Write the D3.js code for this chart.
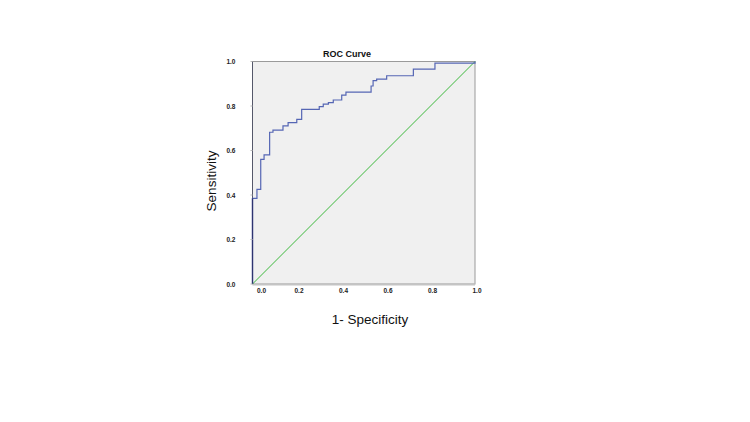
<!DOCTYPE html>
<html>
<head>
<meta charset="utf-8">
<script src="https://cdn.jsdelivr.net/npm/d3@7"></script>
<style>
	html, body { margin: 0; padding: 0; background: #fff; }
	svg { display: block; font-family: Arial, 'Liberation Sans', sans-serif; }
</style>
</head>
<body>
<svg id="graph"></svg>
<script>
	// ROC coordinates: each point is where the curve steps up
	const fprValues = [0, 0, 0.020, 0.037, 0.052, 0.077, 0.092, 0.137, 0.160, 0.199, 0.221, 0.300, 0.318, 0.341, 0.363, 0.401, 0.420, 0.533, 0.542, 0.558, 0.603, 0.723, 0.820, 1.0];
	const tprValues = [0, 0.385, 0.425, 0.56, 0.58, 0.682, 0.692, 0.711, 0.725, 0.740, 0.785, 0.797, 0.808, 0.815, 0.827, 0.849, 0.862, 0.89, 0.914, 0.921, 0.936, 0.966, 0.993, 1.0];
	const referenceLine = [0, 1];
	const tickValues = [0, 0.2, 0.4, 0.6, 0.8, 1.0];

;(() => {
	'use strict';

	const width = 750,
		height = 422,
		plot = {left: 252.5, top: 61.5, width: 222.5, height: 222.5};

	const svg = d3.select('#graph')
		.attr('width', width)
		.attr('height', height);

	const xScale = d3.scaleLinear().domain([0, 1]).range([plot.left, plot.left + plot.width]),
		yScale = d3.scaleLinear().domain([0, 1]).range([plot.top + plot.height, plot.top]);

	const rocPoints = fprValues.map((f, i) => ({fpr: f, tpr: tprValues[i]}));

	/**
	* draw the plot frame
	* @returns {undefined}
	*/
	const drawFrame = function() {
		svg.append('rect')
			.attr('x', xScale(0))
			.attr('y', yScale(1))
			.attr('width', xScale(1) - xScale(0))
			.attr('height', yScale(0) - yScale(1))
			.attr('fill', '#f0f0f0')
			.attr('stroke', '#9a9a9a')
			.attr('stroke-width', 1);

		// thicker light bottom edge
		svg.append('line')
			.attr('x1', xScale(0)).attr('x2', xScale(1))
			.attr('y1', yScale(0) + 0.5).attr('y2', yScale(0) + 0.5)
			.attr('stroke', '#c4c4c4')
			.attr('stroke-width', 2);

		// dark left edge
		svg.append('line')
			.attr('x1', xScale(0)).attr('x2', xScale(0))
			.attr('y1', yScale(0)).attr('y2', yScale(1))
			.attr('stroke', '#55586a')
			.attr('stroke-width', 1);
	};

	/**
	* draw tick labels of both axes
	* @returns {undefined}
	*/
	const drawAxes = function() {
		const labelFont = {size: '6.5px', weight: 'bold', fill: '#222'};

		svg.append('g').selectAll('text')
			.data(tickValues)
			.join('text')
			.attr('x', (d) => xScale(d) + (d === 0 ? 9 : 2))
			.attr('y', yScale(0) + 9)
			.attr('text-anchor', 'middle')
			.attr('font-size', labelFont.size)
			.attr('font-weight', labelFont.weight)
			.attr('fill', labelFont.fill)
			.text(d3.format('.1f'));

		svg.append('g').selectAll('text')
			.data(tickValues)
			.join('text')
			.attr('x', xScale(0) - 17)
			.attr('y', (d) => yScale(d) + 2.5)
			.attr('text-anchor', 'end')
			.attr('font-size', labelFont.size)
			.attr('font-weight', labelFont.weight)
			.attr('fill', labelFont.fill)
			.text(d3.format('.1f'));

		svg.append('g').selectAll('line')
			.data(tickValues)
			.join('line')
			.attr('x1', xScale(0) - 2).attr('x2', xScale(0))
			.attr('y1', (d) => yScale(d)).attr('y2', (d) => yScale(d))
			.attr('stroke', '#bbb')
			.attr('stroke-width', 1);

		svg.append('text')
			.attr('x', 347)
			.attr('y', 57)
			.attr('text-anchor', 'middle')
			.attr('font-size', '9px')
			.attr('font-weight', 'bold')
			.attr('fill', '#111')
			.text('ROC Curve');

		svg.append('text')
			.attr('x', 370)
			.attr('y', 324)
			.attr('text-anchor', 'middle')
			.attr('font-size', '13.5px')
			.attr('fill', '#111')
			.text('1- Specificity');

		svg.append('text')
			.attr('transform', 'translate(216,181) rotate(-90)')
			.attr('text-anchor', 'middle')
			.attr('font-size', '13.5px')
			.attr('fill', '#111')
			.text('Sensitivity');
	};

	/**
	* draw reference diagonal and the ROC step curve
	* @returns {undefined}
	*/
	const drawLines = function() {
		svg.append('line')
			.attr('x1', xScale(referenceLine[0])).attr('y1', yScale(referenceLine[0]))
			.attr('x2', xScale(referenceLine[1])).attr('y2', yScale(referenceLine[1]))
			.attr('stroke', '#3cb83c')
			.attr('stroke-width', 1);

		const rocLine = d3.line()
			.x((d) => xScale(d.fpr))
			.y((d) => yScale(d.tpr))
			.curve(d3.curveStepAfter);

		svg.append('path')
			.datum(rocPoints)
			.attr('d', rocLine)
			.attr('fill', 'none')
			.attr('stroke', '#5566b4')
			.attr('stroke-width', 1.2);

		// the part on the left edge looks darker in the picture
		svg.append('line')
			.attr('x1', xScale(0)).attr('x2', xScale(0))
			.attr('y1', yScale(0)).attr('y2', yScale(tprValues[1]))
			.attr('stroke', '#2e3470')
			.attr('stroke-width', 1.3);
	};

	const init = function() {
		drawFrame();
		drawLines();
		drawAxes();
	};

	init();
})();
</script>
</body>
</html>
